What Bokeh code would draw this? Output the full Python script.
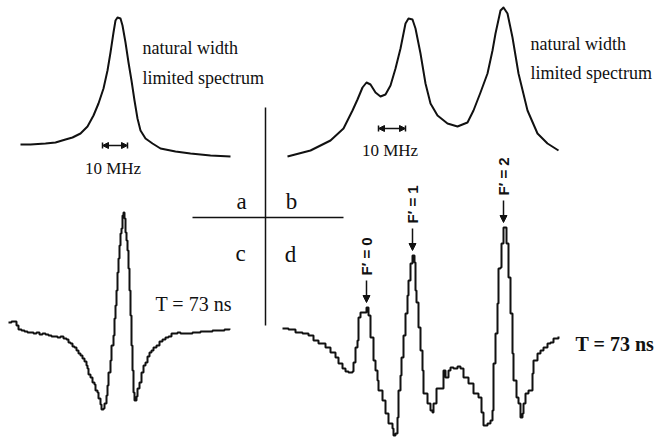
import numpy as np
from bokeh.plotting import figure
from bokeh.models import Range1d, Arrow, NormalHead
from bokeh.core.properties import value
from bokeh.embed import file_html
from bokeh.resources import INLINE

# ---------------- data (channel offset, signal) ----------------
# (a) natural width limited spectrum, single line
a_x = [0, 10, 25, 35, 45, 52, 60, 67, 73, 78, 83, 87, 90, 93, 95, 97, 100, 102, 105, 108,
       111, 114, 117, 120, 125, 132, 140, 155, 170, 190, 210]
a_y = [16, 16, 17, 18, 21, 23, 27, 34, 45, 57, 72, 90, 108, 128, 140, 143, 142, 135, 118, 98,
       80, 60, 42, 30, 22, 17, 12, 9, 7, 5, 4]

# (b) natural width limited spectrum, three lines
b_x = [2, 25, 45, 58, 67, 72, 77, 81, 85, 90, 95, 100, 105, 110, 115, 120, 123, 127, 130, 135,
       140, 145, 152, 162, 172, 182, 188, 195, 202, 207, 210, 215, 218, 222, 227, 233, 242, 252,
       262, 273]
b_y = [4, 10, 20, 32, 50, 61, 73, 78, 76, 68, 64, 66, 75, 92, 112, 137, 142, 141, 132, 107,
       77, 57, 45, 37, 34, 38, 50, 68, 87, 110, 127, 150, 153, 147, 123, 87, 50, 27, 17, 10]

# (c) T = 73 ns, single line
c_x = [0, 3, 6, 8, 10, 13, 16, 19, 22, 25, 28, 31, 34, 37, 40, 43, 46, 49, 52, 55, 58, 60, 62,
       64, 66, 68, 70, 72, 74, 76, 78, 79, 80, 82, 84, 86, 87, 89, 90, 92, 93, 95, 96, 98, 99,
       100, 102, 103, 105, 106, 107, 108, 109, 110, 111, 112, 113, 114, 115, 116, 117, 118, 119,
       120, 121, 122, 123, 124, 125, 126, 127, 128, 129, 131, 133, 135, 137, 139, 141, 143, 145,
       148, 151, 154, 157, 160, 163, 166, 169, 172, 176, 180, 184, 188, 192, 196, 200, 204, 208,
       212, 216, 221]
c_y = [18, 19, 19, 15, 11, 10, 9, 8, 8, 7, 8, 6, 7, 6, 5, 4, 4, 3, 4, 2, 1, -2, -3,
       -6, -7, -10, -13, -15, -18, -21, -25, -28, -34, -37, -42, -44, -50, -52, -58, -64, -69, -68, -63, -55, -45,
       -32, -20, -5, 5, 22, 35, 50, 68, 82, 95, 107, 112, 125, 128, 122, 108, 100, 90,
       72, 50, 25, -5, -30, -52, -60, -60, -56, -48, -42, -32, -25, -22, -16, -12, -10, -7,
       -5, -1, 1, 3, 4, 7, 7, 8, 7, 7, 7, 8, 8, 9, 9, 9, 10,
       10, 10, 11, 12]

# (d) T = 73 ns, three lines F' = 0, 1, 2
d_x = [0, 6, 13, 20, 26, 31, 36, 43, 48, 53, 56, 60, 63, 66, 70, 71, 73, 75, 76, 78, 81, 84,
       86, 88, 91, 93, 95, 96, 100, 103, 106, 110, 111, 113, 115, 116, 118, 119, 121, 123, 125,
       126, 128, 130, 132, 133, 134, 136, 138, 140, 141, 145, 148, 150, 151, 154, 158, 161, 163,
       166, 168, 171, 175, 178, 181, 186, 191, 196, 199, 201, 205, 208, 210, 211, 213, 215, 216,
       218, 219, 221, 223, 224, 226, 228, 230, 231, 234, 236, 238, 240, 241, 243, 246, 250, 251,
       255, 258, 261, 265, 268, 271, 276]
d_y = [12, 11, 8, 7, 5, 0, -3, -7, -12, -17, -23, -28, -31, -32, -31, -22, -7, 0, 23, 28, 28, 33,
       25, 3, -20, -30, -40, -50, -60, -73, -83, -88, -95, -93, -77, -50, -35, -17, 5, 27, 45,
       60, 77, 85, 78, 50, 38, 13, -10, -30, -53, -63, -70, -72, -63, -48, -48, -30, -37,
       -30, -27, -28, -26, -28, -37, -43, -53, -57, -72, -85, -83, -80, -70, -23, 7, 37, 72,
       73, 97, 113, 113, 97, 63, 27, -13, -40, -57, -63, -77, -73, -63, -53, -50, -33, -20,
       -13, -10, -7, -3, -2, 2, 4]

d_labels = ["F\u2032 = 0", "F\u2032 = 1", "F\u2032 = 2"]
d_label_near = [84, 130, 222]          # channel of each line
bar_a = [82, 107]                      # 10 MHz bar, channels
bar_b = [93, 120]
ab_texts = ["natural width", "limited spectrum"]
t_text = "T = 73 ns"
quadrants = ["a", "b", "c", "d"]

# ---------------- layout ----------------
W, H = 656, 437
panel_origin = {"a": (20, 160), "b": (285, 160), "c": (8, 340), "d": (282, 340)}

p = figure(width=W, height=H, output_backend="svg", toolbar_location=None,
           x_range=Range1d(0, W), y_range=Range1d(H, 0),
           x_axis_type=None, y_axis_type=None, min_border=0,
           outline_line_color=None, background_fill_color="white")
p.extra_x_ranges = {"x" + k: Range1d(-x0, W - x0) for k, (x0, b) in panel_origin.items()}
p.extra_y_ranges = {"y" + k: Range1d(b - H, b) for k, (x0, b) in panel_origin.items()}

INK = "#111111"
serif = value("Liberation Serif")
sans = value("Liberation Sans")

def rn(k):
    return dict(x_range_name="x" + k, y_range_name="y" + k)

# curves
p.line(a_x, a_y, line_color=INK, line_width=2, line_join="round", **rn("a"))
p.line(b_x, b_y, line_color=INK, line_width=2, line_join="round", **rn("b"))
p.step(c_x, c_y, mode="after", line_color=INK, line_width=2, **rn("c"))
p.step(d_x, d_y, mode="after", line_color=INK, line_width=2, **rn("d"))

# 10 MHz bars
for k, bar, yb, ty in (("a", bar_a, 15, -8), ("b", bar_b, 32, 10)):
    p.add_layout(Arrow(x_start=bar[0], x_end=bar[1], y_start=yb, y_end=yb,
                       start=NormalHead(size=6, fill_color=INK, line_color=INK),
                       end=NormalHead(size=6, fill_color=INK, line_color=INK),
                       line_color=INK, line_width=1.5, **rn(k)))
    p.segment(x0=bar, y0=[yb - 3, yb - 3], x1=bar, y1=[yb + 3, yb + 3],
              line_color=INK, line_width=1.5, **rn(k))
    p.text(x=[(bar[0] + bar[1]) / 2 - 2], y=[ty], text=["10 MHz"], text_font=serif,
           text_font_size="17px", text_align="center", text_baseline="alphabetic",
           text_color=INK, **rn(k))

# panel a/b descriptions
p.text(x=[142, 142, 530, 530], y=[47, 77, 43, 72], text=ab_texts * 2, text_font=serif,
       text_font_size="18px", text_align="left", text_baseline="alphabetic", text_color=INK)

# cross and quadrant letters
p.segment(x0=[265, 192], y0=[107, 217], x1=[265, 343], y1=[325, 217],
          line_color=INK, line_width=1.5)
p.text(x=[241, 291, 240, 290], y=[201, 201, 253, 254], text=quadrants, text_font=serif,
       text_font_size="23px", text_align="center", text_baseline="alphabetic", text_color=INK)

# T labels
p.text(x=[155], y=[303], text=[t_text], text_font=serif, text_font_size="20px",
       text_align="left", text_baseline="alphabetic", text_color=INK)
p.text(x=[575], y=[343], text=[t_text], text_font=serif, text_font_size="20px",
       text_font_style="bold", text_align="left", text_baseline="alphabetic", text_color=INK)

# F' labels with arrows, placed above each peak of curve d
dx = np.array(d_x); dy = np.array(d_y)
lx, ly = [], []
for near in d_label_near:
    m = np.abs(dx - near) <= 6
    i = np.argmax(np.where(m, dy, -1e9))
    px, py = dx[i], dy[i]
    p.add_layout(Arrow(x_start=px, x_end=px, y_start=py + 27, y_end=py + 5,
                       end=NormalHead(size=7, fill_color=INK, line_color=INK),
                       line_color=INK, line_width=1.5, **rn("d")))
    lx.append(px); ly.append(py + 32)
p.text(x=lx, y=ly, text=d_labels, angle=np.pi / 2, text_font=sans, text_font_size="15px",
       text_font_style="bold", text_align="left", text_baseline="middle", text_color=INK,
       **rn("d"))

open("out.html", "w").write(file_html(p, INLINE))
